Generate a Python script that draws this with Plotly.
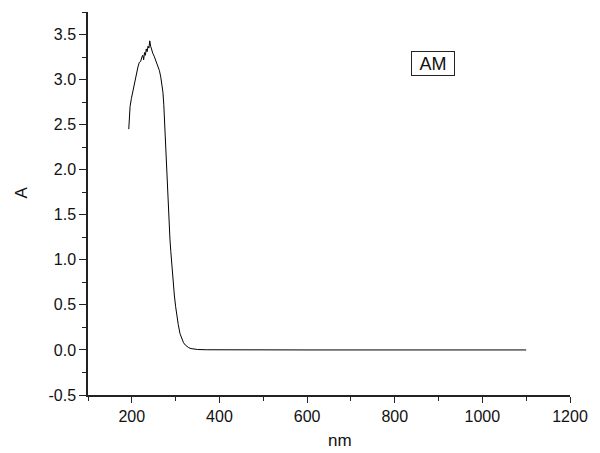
import plotly.graph_objects as go

# Absorbance spectrum
wavelength_nm = [193, 196, 199, 202, 205, 208, 211, 214, 217, 220, 223, 225, 227, 229,
                 231, 233, 235, 237, 239, 241, 243, 245, 248, 251, 254, 257, 260, 263,
                 266, 269, 271, 273, 275, 277, 279, 281, 283, 285, 287, 289, 291, 294,
                 297, 300, 303, 306, 310, 314, 318, 322, 326, 330, 335, 340, 350, 370,
                 400, 500, 600, 700, 800, 900, 1000, 1100]
absorbance = [2.45, 2.70, 2.79, 2.86, 2.93, 3.03, 3.09, 3.14, 3.19, 3.20, 3.25, 3.27, 3.22, 3.30,
              3.27, 3.34, 3.31, 3.37, 3.35, 3.43, 3.37, 3.33, 3.29, 3.26, 3.22, 3.20, 3.15, 3.10,
              3.03, 2.93, 2.86, 2.72, 2.50, 2.24, 1.97, 1.76, 1.56, 1.40, 1.23, 1.09, 0.94, 0.76,
              0.61, 0.48, 0.37, 0.28, 0.18, 0.12, 0.08, 0.055, 0.035, 0.025, 0.015, 0.01, 0.005, 0.002,
              0.001, 0.0, 0.0, 0.0, 0.0, 0.0, 0.0, 0.0]

x_ticks = [200, 400, 600, 800, 1000, 1200]
y_ticks = [-0.5, 0.0, 0.5, 1.0, 1.5, 2.0, 2.5, 3.0, 3.5]
series_name = "AM"

FONT = "Liberation Sans, Arial, sans-serif"
AX = "#222222"
TXT = "#111111"

fig = go.Figure()
fig.add_trace(go.Scatter(x=wavelength_nm, y=absorbance, mode="lines",
                         line=dict(color="black", width=1), name=series_name,
                         showlegend=False))

fig.update_layout(
    width=600, height=453,
    margin=dict(l=88, r=20, t=12, b=58),
    paper_bgcolor="white", plot_bgcolor="white",
    font=dict(family=FONT, size=16, color=TXT),
)

fig.update_xaxes(
    range=[100, 1200], tickvals=x_ticks, ticktext=[str(v) for v in x_ticks],
    showgrid=False, zeroline=False, showline=True, linecolor=AX, linewidth=1.5,
    ticks="outside", ticklen=6, tickwidth=1.2, tickcolor=AX,
    tickfont=dict(size=16, family=FONT, color=TXT),
    minor=dict(dtick=100, tick0=100, ticks="outside", ticklen=4, tickwidth=1.2, tickcolor=AX),
)
fig.update_yaxes(
    range=[-0.5, 3.75], tickvals=y_ticks, ticktext=[f"{v:.1f}" for v in y_ticks],
    showgrid=False, zeroline=False, showline=True, linecolor=AX, linewidth=1.5,
    ticks="outside", ticklen=7, tickwidth=1.2, tickcolor=AX,
    tickfont=dict(size=16, family=FONT, color=TXT),
    minor=dict(dtick=0.25, tick0=0, ticks="outside", ticklen=4, tickwidth=1.2, tickcolor=AX),
)

# axis titles
fig.add_annotation(text="A", xref="paper", yref="paper", x=-0.138, y=0.53,
                   showarrow=False, textangle=-90, font=dict(size=17, family=FONT, color=TXT),
                   xanchor="center", yanchor="middle")
fig.add_annotation(text="nm", xref="paper", yref="paper", x=0.522, y=-0.149,
                   showarrow=False, font=dict(size=17, family=FONT, color=TXT),
                   xanchor="center", yanchor="bottom")

# legend box
fig.add_annotation(text=series_name, xref="x", yref="y", x=888, y=3.18,
                   showarrow=False, font=dict(size=18, family=FONT, color=TXT),
                   bordercolor="#222222", borderwidth=1, borderpad=0,
                   width=42, height=23, bgcolor="white")

fig.write_html("out.html")
